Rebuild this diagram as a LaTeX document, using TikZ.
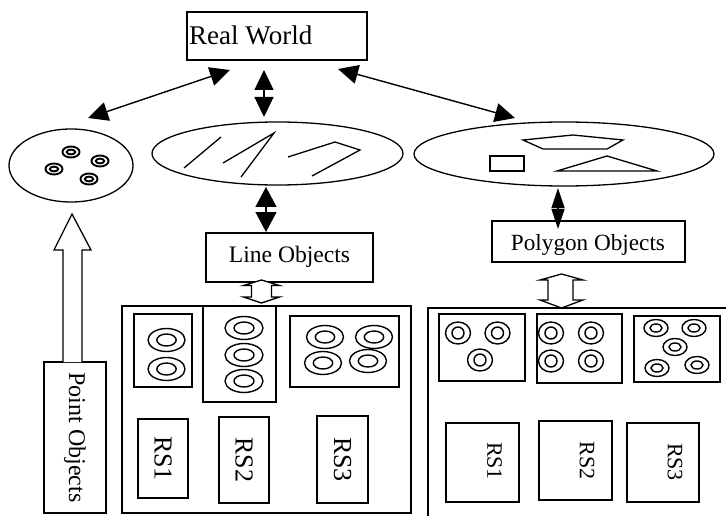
\documentclass[tikz,border=0pt]{standalone}
\usepackage{fontspec}
\setmainfont{Liberation Serif}
\usetikzlibrary{arrows.meta,shapes.geometric}
\newcommand\dring[6]{\draw[ring] (#1,#2) ellipse [x radius=#3,y radius=#4] (#1,#2) ellipse [x radius=#5,y radius=#6];}
\begin{document}
\begin{tikzpicture}[x=1pt,y=-1pt,
  box/.style={draw,line width=1.3pt,inner sep=0pt,outer sep=0pt,anchor=north west},
  oval/.style={draw,ellipse,line width=1.3pt,inner sep=0pt},
  ring/.style={line width=1.4pt},
  lbl/.style={inner sep=0pt},
  bigarr/.style={line width=1.4pt,{Triangle[length=20pt,width=19pt]}-{Triangle[length=20pt,width=19pt]}},
  hollow/.style={draw,line width=1.3pt,fill=white,line join=miter},
  shp/.style={line width=1.3pt}]
\useasboundingbox (0,0) rectangle (726,516);
\clip (0,0) rectangle (726,516);

% Real World
\node[box,minimum width=180pt,minimum height=48pt] (rw) at (187,12) {};
\node[lbl,anchor=base west,font=\fontsize{27}{30}\selectfont] (rwt) at (189,45) {Real World};

% ellipses
\node[oval,minimum width=124pt,minimum height=73pt] (pt) at (71,165.5) {};
\node[oval,minimum width=251pt,minimum height=63pt] (ln) at (277.5,153.5) {};
\node[oval,minimum width=300pt,minimum height=64pt] (pg) at (564,154) {};

% point markers
\tikzset{ring/.style={line width=1.9pt}}
\dring{71}{152}{8.5}{5.5}{4.2}{2.4}
\dring{100}{161}{8.5}{5.5}{4.2}{2.4}
\dring{54}{169}{8.5}{5.5}{4.2}{2.4}
\dring{89}{179}{8.5}{5.5}{4.2}{2.4}
\tikzset{ring/.style={line width=1.4pt}}

% lines in line ellipse
\draw[shp] (184,168) -- (221,137);
\draw[shp] (223,163) -- (274,133) -- (241,177);
\draw[shp] (288,157) -- (335,142) -- (360,150) -- (312,176);

% polygons in polygon ellipse
\draw[shp] (490,156) rectangle (524,171);
\draw[shp] (523,140) -- (573,135) -- (623,140) -- (607,149) -- (543,149) -- cycle;
\draw[shp] (557,171) -- (607,156) -- (657,171) -- cycle;

% top arrows
\coordinate (a1s) at (230,70); \coordinate (a1e) at (88,118);
\coordinate (a2s) at (264,70); \coordinate (a2e) at (264,117);
\coordinate (a3s) at (338,69); \coordinate (a3e) at (515,118);
\draw[bigarr] (a1s) -- (a1e);
\draw[bigarr] (a2s) -- (a2e);
\draw[bigarr] (a3s) -- (a3e);

% Line Objects
\node[box,minimum width=167pt,minimum height=49pt] (lo) at (206,233) {};
\node[lbl,anchor=base,font=\fontsize{23.6}{26}\selectfont] (lot) at (289.5,262) {Line Objects};
\coordinate (a4s) at (266,187); \coordinate (a4e) at (266,232);
\draw[bigarr,{Triangle[length=20pt,width=21pt]}-{Triangle[length=20pt,width=21pt]}] (a4s) -- (a4e);

% Polygon Objects
\node[box,minimum width=193pt,minimum height=41pt] (po) at (492,221) {};
\node[lbl,anchor=base,font=\fontsize{23.2}{26}\selectfont] (pot) at (588,250) {Polygon Objects};
\coordinate (a5s) at (558,188); \coordinate (a5e) at (558,229);
\draw[line width=1.2pt,{Triangle[length=20pt,width=13pt]}-{Triangle[length=20pt,width=13pt]}] (a5s) -- (a5e);

% Line group
\node[box,minimum width=289pt,minimum height=207pt] (lg) at (122,306) {};
\node[box,minimum width=58pt,minimum height=73pt] (l1) at (134,314) {};
\node[box,minimum width=73pt,minimum height=96pt] (l2) at (203,306) {};
\node[box,minimum width=109pt,minimum height=71pt] (l3) at (290,316) {};
\dring{166.5}{340}{18.5}{11.5}{9.7}{6}
\dring{166.5}{369}{18.5}{11.5}{9.7}{6}
\dring{244}{328}{19}{11.5}{10}{6}
\dring{244}{355}{19}{11.5}{10}{6}
\dring{244}{381}{19}{11.5}{10}{6}
\dring{325}{337}{18.5}{11.5}{9.7}{6}
\dring{374}{337}{18.5}{11.5}{9.7}{6}
\dring{323}{363}{18.5}{11.5}{9.7}{6}
\dring{368}{361}{18.5}{11.5}{9.7}{6}
\node[box,minimum width=50pt,minimum height=79pt] (lr1) at (138,419) {};
\node[box,minimum width=50pt,minimum height=86pt] (lr2) at (219,417) {};
\node[box,minimum width=51pt,minimum height=87pt] (lr3) at (317,416) {};
\node[lbl,rotate=-90,font=\fontsize{26}{28}\selectfont] (lr1t) at (lr1.center) {RS1};
\node[lbl,rotate=-90,font=\fontsize{26}{28}\selectfont] (lr2t) at (lr2.center) {RS2};
\node[lbl,rotate=-90,font=\fontsize{26}{28}\selectfont] (lr3t) at (lr3.center) {RS3};

% hollow arrow Line Objects -> group
\draw[hollow] (261.5,280) -- (279.5,285.5) -- (271.5,285.5) -- (271.5,297) -- (279.5,297)
  -- (261.5,303) -- (243.5,297) -- (251.5,297) -- (251.5,285.5) -- (243.5,285.5) -- cycle;

% Polygon group
\node[box,minimum width=330pt,minimum height=260pt] (pgg) at (428,308) {};
\node[box,minimum width=86pt,minimum height=67pt] (p1) at (439,314) {};
\node[box,minimum width=85pt,minimum height=69pt] (p2) at (537,314) {};
\node[box,minimum width=86pt,minimum height=66pt] (p3) at (634,316) {};
\dring{458}{333}{12.5}{11}{6}{6}
\dring{497.5}{333}{12.5}{11}{6}{6}
\dring{480}{360}{12.5}{11}{6}{6}
\dring{551}{333}{12.5}{11}{6}{6}
\dring{591}{333}{12.5}{11}{6}{6}
\dring{551}{361}{12.5}{11}{6}{6}
\dring{591}{361}{12.5}{11}{6}{6}
\dring{656}{328}{12}{8.5}{6}{4}
\dring{694}{328}{12}{8.5}{6}{4}
\dring{675}{347}{12}{8.5}{6}{4}
\dring{657}{368}{12}{8.5}{6}{4}
\dring{697}{365}{12}{8.5}{6}{4}
\node[box,minimum width=73pt,minimum height=79pt] (pr1) at (446,423) {};
\node[box,minimum width=73pt,minimum height=79pt] (pr2) at (539,421) {};
\node[box,minimum width=72pt,minimum height=79pt] (pr3) at (627,423) {};
\node[lbl,rotate=-90,font=\fontsize{22}{24}\selectfont] (pr1t) at (494.5,461) {RS1};
\node[lbl,rotate=-90,font=\fontsize{22}{24}\selectfont] (pr2t) at (587,460.5) {RS2};
\node[lbl,rotate=-90,font=\fontsize{22}{24}\selectfont] (pr3t) at (675,462) {RS3};

% hollow arrow Polygon Objects -> group
\draw[hollow] (561.5,274) -- (583,280) -- (573,280) -- (573,300) -- (583,300)
  -- (561.5,308) -- (540,300) -- (548,300) -- (548,280) -- (540,280) -- cycle;

% Point Objects
\node[box,minimum width=62pt,minimum height=151pt] (pob) at (44,362) {};
\node[lbl,rotate=-90,font=\fontsize{24}{26}\selectfont] (pobt) at (pob.center) {Point Objects};
\draw[hollow] (63,362) -- (63,250) -- (54,250) -- (72,214) -- (91,250) -- (82,250) -- (82,362);
\end{tikzpicture}
\end{document}
